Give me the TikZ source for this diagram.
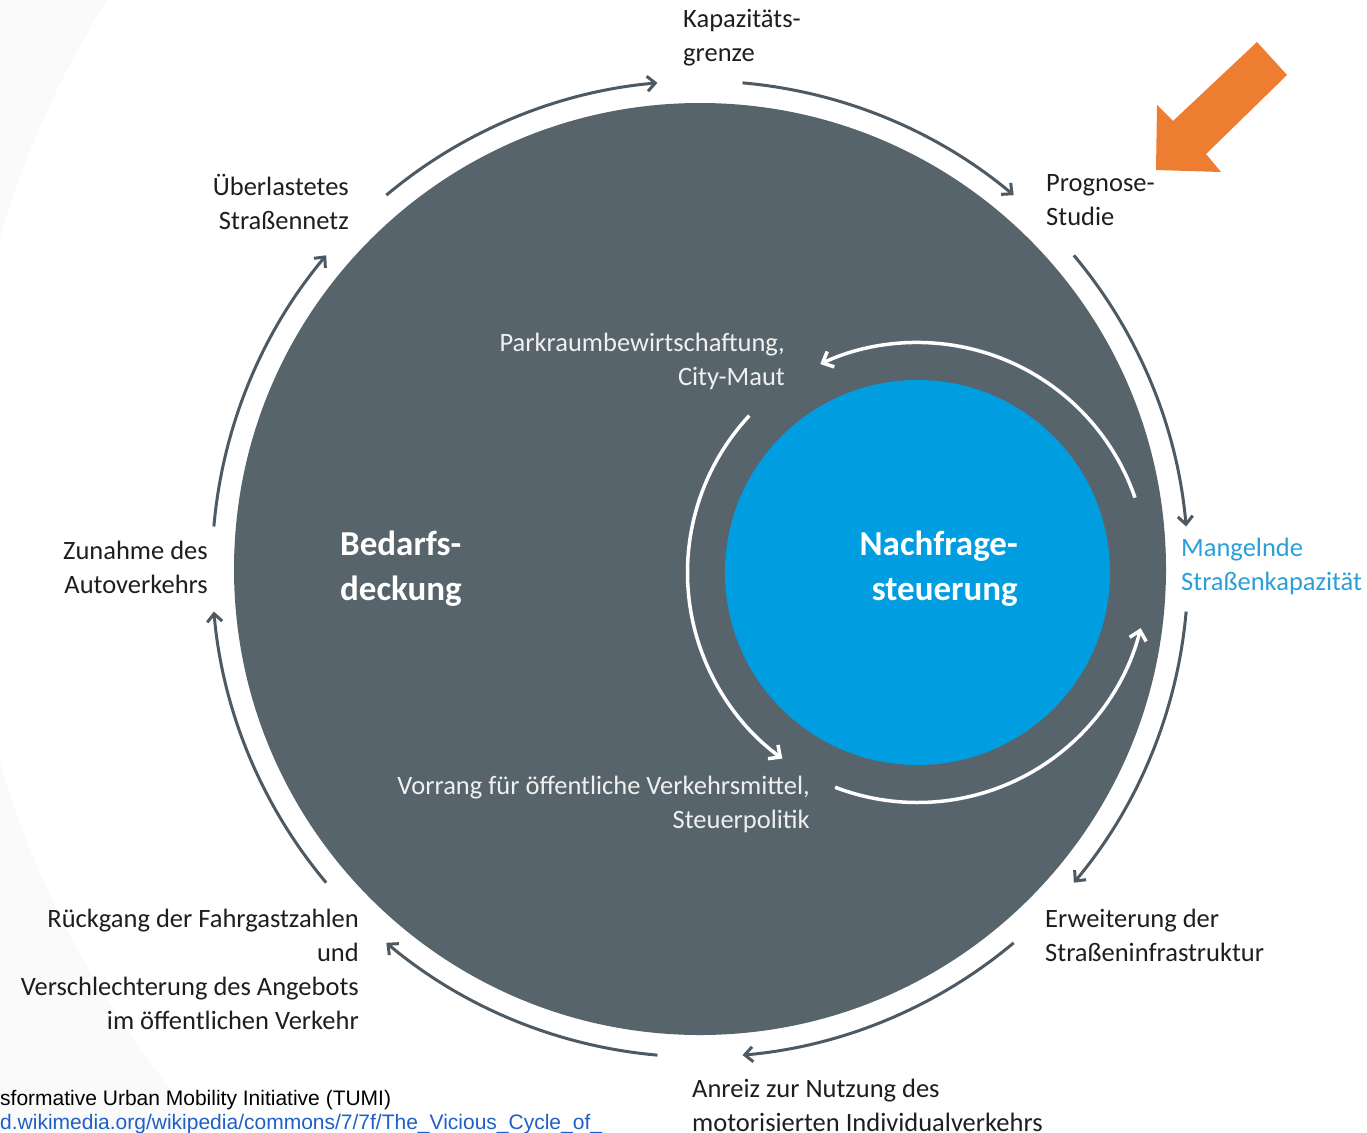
\documentclass[tikz,border=0pt]{standalone}
\usepackage{fontspec}
\setmainfont{Carlito}
\newfontfamily\footfont{Liberation Sans}
\usetikzlibrary{arrows.meta}
\definecolor{slate}{RGB}{87,100,108}
\definecolor{ringline}{RGB}{78,90,99}
\definecolor{skyblue}{RGB}{0,158,224}
\definecolor{lightblue}{RGB}{42,159,216}
\definecolor{ink}{RGB}{30,30,32}
\definecolor{signal}{RGB}{237,125,49}
\definecolor{linkblue}{RGB}{30,96,200}

\begin{document}
\begin{tikzpicture}[
    x=1pt, y=-1pt,
    outerarc/.style={ringline,line width=3pt,-{Straight Barb[length=8pt,width=15pt]}},
    innerarc/.style={white,line width=3.5pt,-{Straight Barb[length=9pt,width=17pt]}},
    cycletext/.style={inner sep=0pt,text=ink,font=\fontsize{26.5}{34}\selectfont},
    innertext/.style={inner sep=0pt,text=white!94!black,font=\fontsize{26.5}{34}\selectfont},
    headline/.style={inner sep=0pt,text=white,font=\bfseries\fontsize{35}{45}\selectfont}
]
    \useasboundingbox (0,0) rectangle (1367,1132);

    % Background, slightly darker in the top left corner
    \fill[black!2] (0,0) rectangle (1367,1132);
    \fill[white] (900,500) circle[radius=937];

    % The two circles
    \node[circle,fill=slate,minimum size=932pt,inner sep=0pt] (bedarf) at (700,569) {};
    \node[circle,fill=skyblue,minimum size=385pt,inner sep=0pt] (nachfrage) at (917.5,572.5) {};

    % Outer cycle
    \foreach \a in {0,45,...,315}
        \draw[outerarc] (bedarf.center) ++(\a+5:488) arc[start angle=\a+5,end angle=\a+40,radius=488];

    % Inner cycle
    \draw[innerarc] (nachfrage.center) ++(341:230) arc[start angle=341,end angle=245,radius=230];
    \draw[innerarc] (nachfrage.center) ++(223:230) arc[start angle=223,end angle=126,radius=230];
    \draw[innerarc] (nachfrage.center) ++(111:230) arc[start angle=111,end angle=14,radius=230];

    % Centre titles (base = last line)
    \node[headline,anchor=base west,align=left] (bedarfstext) at (340,600) {Bedarfs-\\deckung};
    \node[headline,anchor=base east,align=right] (nachfragetext) at (1018,600) {Nachfrage-\\steuerung};

    % Measures inside
    \node[innertext,anchor=base east,align=right] (parken) at (785,385) {Parkraumbewirtschaftung,\\City-Maut};
    \node[innertext,anchor=base east,align=right] (vorrang) at (810,828) {Vorrang für öffentliche Verkehrsmittel,\\Steuerpolitik};

    % Steps of the outer cycle
    \node[cycletext,anchor=base west,align=left] (kapazitaet) at (683,62) {Kapazitäts-\\grenze};
    \node[cycletext,anchor=base west,align=left] (prognose) at (1046,225) {Prognose-\\Studie};
    \node[cycletext,anchor=base west,align=left,text=lightblue] (mangel) at (1181,590) {Mangelnde\\Straßenkapazität};
    \node[cycletext,anchor=base west,align=left] (erweiterung) at (1045,961) {Erweiterung der\\Straßeninfrastruktur};
    \node[cycletext,anchor=base west,align=left] (anreiz) at (692,1131) {Anreiz zur Nutzung des\\motorisierten Individualverkehrs};
    \node[cycletext,anchor=base east,align=right] (rueckgang) at (359,1029) {Rückgang der Fahrgastzahlen\\und\\Verschlechterung des Angebots\\im öffentlichen Verkehr};
    \node[cycletext,anchor=base east,align=right] (zunahme) at (208,593) {Zunahme des\\Autoverkehrs};
    \node[cycletext,anchor=base east,align=right] (ueberlastet) at (349,229) {Überlastetes\\Straßennetz};

    % Orange pointer
    \fill[signal] (1157,105) -- (1173,121) -- (1257,42) -- (1287,75) -- (1206,154) -- (1221,172) -- (1156,170) -- cycle;

    % Source line
    \node[anchor=base west,inner sep=0pt,align=left,font=\footfont\fontsize{21}{24}\selectfont] (quelle) at (0,1129)
        {sformative Urban Mobility Initiative (TUMI)\\\textcolor{linkblue}{d.wikimedia.org/wikipedia/commons/7/7f/The\_Vicious\_Cycle\_of\_}};
\end{tikzpicture}
\end{document}
